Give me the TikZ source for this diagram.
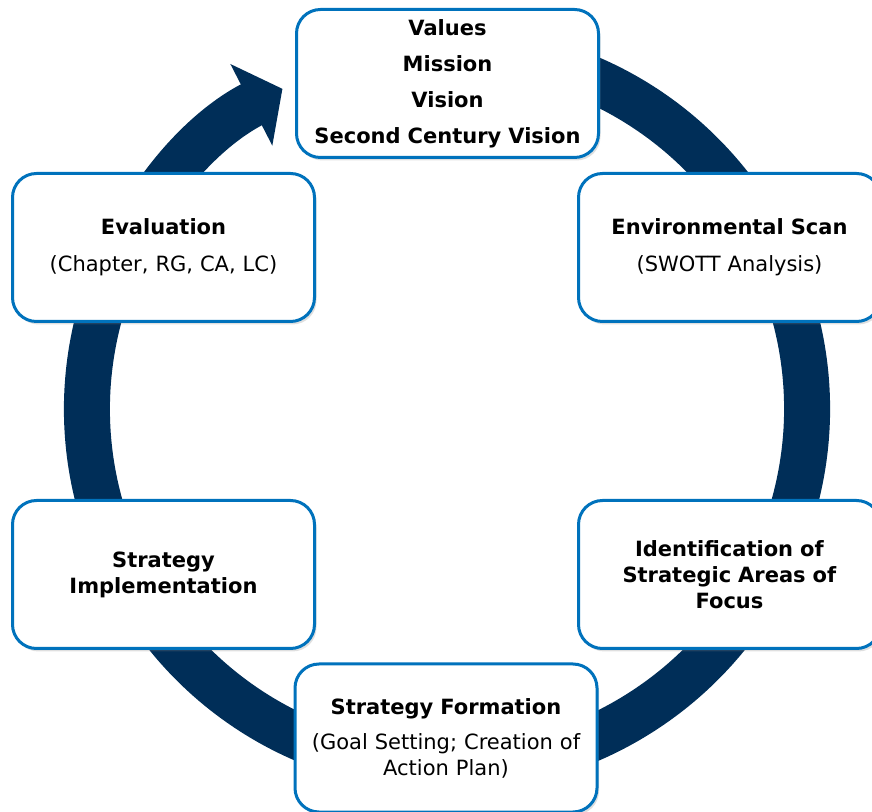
\documentclass[tikz,border=0pt]{standalone}
\usepackage{fontspec}
\setmainfont{DejaVu Sans}
\usetikzlibrary{arrows.meta,shadows}
\definecolor{ringblue}{RGB}{0,46,88}
\definecolor{boxblue}{RGB}{0,114,188}

\begin{document}
\begin{tikzpicture}[x=1pt,y=1pt,
    stage/.style={draw=boxblue,line width=3pt,fill=white,rounded corners=24pt,minimum width=302pt,minimum height=148pt,align=center,text width=290pt,font=\fontsize{21}{26}\selectfont,drop shadow={opacity=0.25,shadow xshift=2pt,shadow yshift=-3pt}},
    ring/.style={draw=ringblue,line width=46pt,-{Triangle[width=90pt,length=35pt]}}]
  \useasboundingbox (0,0) rectangle (872,811);
  \coordinate (c) at (447,402);
  \draw[ring] (c) ++(75:360) arc[start angle=75,end angle=-242.8,radius=360];
  \node[stage] (mvv) at (447.5,727.5) {\textbf{Values}\\[10pt]\textbf{Mission}\\[10pt]\textbf{Vision}\\[10pt]\textbf{Second Century Vision}};
  \node[stage] (eval) at (163.5,563.5) {\textbf{Evaluation}\\[11pt](Chapter, RG, CA, LC)};
  \node[stage] (scan) at (729.5,563.5) {\textbf{Environmental Scan}\\[11pt](SWOTT Analysis)};
  \node[stage] (impl) at (163.5,236.5) {\textbf{Strategy}\\\textbf{Implementation}};
  \node[stage] (focus) at (729.5,236.5) {\textbf{Identification of}\\\textbf{Strategic Areas of}\\\textbf{Focus}};
  \node[stage] (form) at (446,73) {\textbf{Strategy Formation}\\[9pt](Goal Setting; Creation of\\Action Plan)};
\end{tikzpicture}
\end{document}
